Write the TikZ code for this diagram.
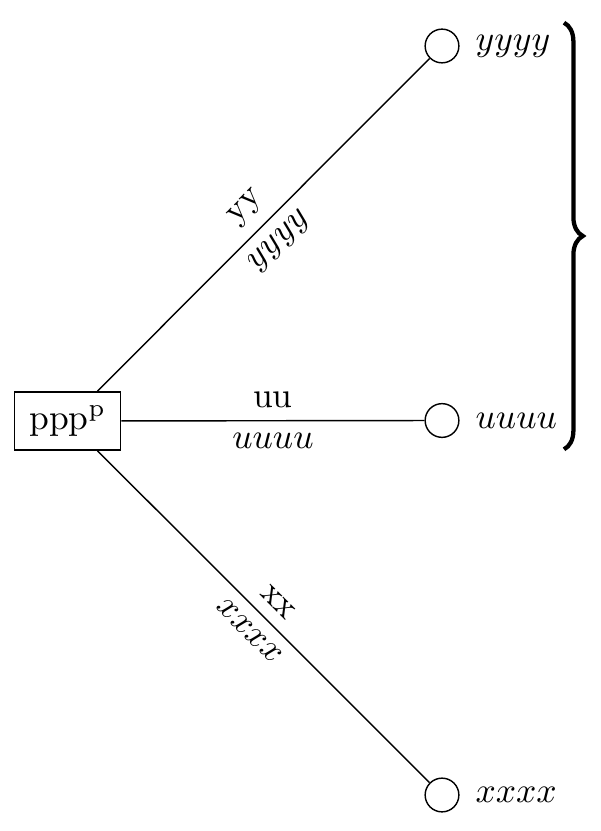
\documentclass[tikz,border=0pt]{standalone}
\usetikzlibrary{decorations.pathreplacing}
\begin{document}
\begin{tikzpicture}[x=0.28169pt, y=-0.28169pt,
  leaf/.style={circle, draw, minimum size=9.5pt, inner sep=0pt},
  root/.style={draw, rectangle, minimum width=29.9pt, minimum height=16.4pt, inner sep=0pt},
  leaflabel/.style={anchor=west, xshift=1pt},
  edgelab/.style={midway, sloped},
  bracestyle/.style={very thick, decorate, decoration={brace, amplitude=5.3pt}}]
\useasboundingbox (0,0) rectangle (601,831);
\node[root] (p) at (67.7,421) {ppp$^{\mathrm{p}}$};
\node[leaf] (y) at (442,46) {};
\node[leaf] (u) at (442,420.5) {};
\node[leaf] (x) at (442,795) {};
\node[leaflabel] (yl) at (y.east) {$yyyy$};
\node[leaflabel] (ul) at (u.east) {$uuuu$};
\node[leaflabel] (xl) at (x.east) {$xxxx$};
\draw (p) -- (y) node[edgelab, above] {yy} node[edgelab, below] {$yyyy$};
\draw (p) -- (u) node[edgelab, above] {uu} node[edgelab, below] {$uuuu$};
\draw (p) -- (x) node[edgelab, above] {xx} node[edgelab, below] {$xxxx$};
\coordinate (bt) at (564,22.7);
\coordinate (bb) at (564,449.3);
\draw[bracestyle] (bt) -- (bb);
\end{tikzpicture}
\end{document}
